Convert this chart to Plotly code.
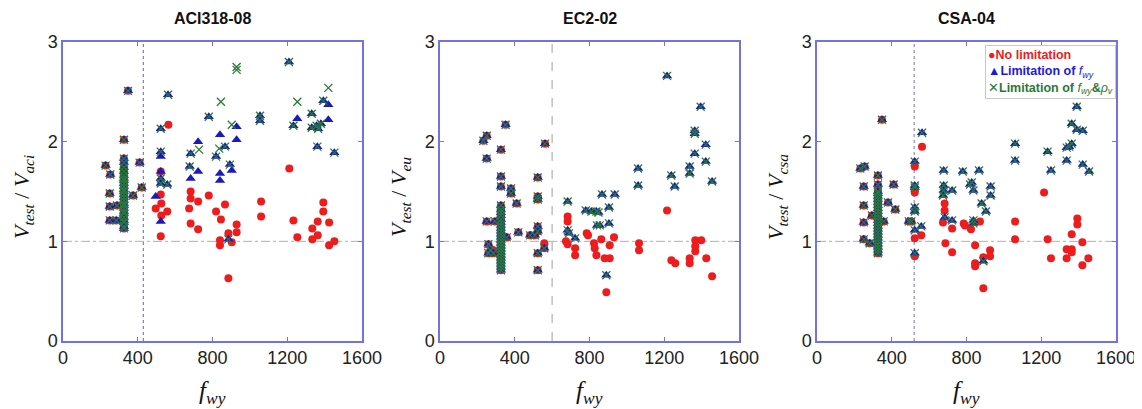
import plotly.graph_objects as go

# ---------------- data ----------------
panel_titles = ["ACI318-08", "EC2-02", "CSA-04"]
y_subscripts = ["aci", "eu", "csa"]
fwy_limits = [430, 600, 520]
x_ticks = [0, 400, 800, 1200, 1600]
y_ticks = [0, 1, 2, 3]
legend_labels = ["No limitation", "Limitation of ", "Limitation of "]

# ACI318-08 : specimens below the limit (all three approaches coincide)
aci_low_fwy = [348, 326, 228, 253, 410, 250, 250, 250, 285, 375, 421, 289,
               326, 326, 326, 326, 326, 326, 326, 326, 326, 326, 326, 326,
               326, 326, 326, 326, 326, 326, 326, 326, 326, 326, 326, 326]
aci_low_ratio = [2.51, 2.02, 1.76, 1.67, 1.79, 1.48, 1.35, 1.21, 1.21, 1.46, 1.54, 1.36,
                 1.13, 1.15, 1.19, 1.21, 1.24, 1.28, 1.30, 1.33, 1.36, 1.38, 1.41, 1.44,
                 1.47, 1.50, 1.52, 1.55, 1.58, 1.61, 1.63, 1.66, 1.70, 1.74, 1.79, 1.83]
aci_nolim_fwy = [564, 523, 496, 526, 558, 526, 523, 523, 683, 683, 723, 675, 683, 723, 780,
                 867, 819, 845, 929, 929, 885, 840, 840, 903, 885, 1060, 1060, 1211, 1233,
                 1254, 1393, 1393, 1363, 1424, 1334, 1363, 1334, 1424, 1452]
aci_nolim_ratio = [2.17, 1.70, 1.33, 1.38, 1.30, 1.26, 1.05, 1.47, 1.50, 1.43, 1.40, 1.33, 1.18, 1.12, 1.46,
                   1.37, 1.30, 1.22, 1.17, 1.09, 1.08, 1.01, 0.96, 0.99, 0.63, 1.40, 1.25, 1.73, 1.21,
                   1.04, 1.39, 1.30, 1.20, 1.19, 1.13, 1.06, 1.02, 0.96, 1.00]
aci_limfy_fwy = [562, 523, 523, 523, 523, 523, 523, 558, 496, 523, 683, 723, 678, 723, 683, 780,
                 840, 929, 929, 867, 819, 893, 903, 840, 840, 885, 1054, 1054, 1209, 1254, 1233,
                 1331, 1331, 1393, 1420, 1420, 1357, 1380, 1365, 1361, 1452]
aci_limfy_ratio = [2.47, 2.13, 1.90, 1.85, 1.70, 1.63, 1.58, 1.57, 1.45, 1.20, 1.88, 2.00, 1.75, 1.70, 1.63, 2.25,
                   2.07, 2.15, 2.02, 1.95, 1.85, 1.77, 1.71, 1.68, 1.61, 1.02, 2.26, 2.21, 2.80, 2.23, 2.16,
                   2.28, 2.14, 2.41, 2.37, 2.22, 2.16, 2.18, 2.13, 1.95, 1.89]
aci_limrho_fwy = [562, 523, 523, 523, 523, 558, 683, 728, 678, 780, 845, 929, 929, 903, 836, 819,
                  867, 893, 885, 1054, 1054, 1209, 1254, 1233, 1331, 1331, 1393, 1420, 1357, 1380,
                  1365, 1361, 1452]
aci_limrho_ratio = [2.47, 2.13, 1.90, 1.63, 1.58, 1.57, 1.88, 1.92, 1.75, 2.25, 2.40, 2.75, 2.72, 2.17, 1.93, 1.85,
                    1.95, 1.77, 1.02, 2.26, 2.21, 2.80, 2.40, 2.16, 2.28, 2.14, 2.41, 2.54, 2.16, 2.18,
                    2.13, 1.95, 1.89]

# EC2-02
ec2_low_fwy = [351, 250, 232, 326, 250, 326, 326, 380, 380, 410, 250, 294, 419, 357, 259, 259, 285,
               562, 523, 523, 523, 523, 523, 482, 508, 558, 523, 523, 270,
               326, 326, 326, 326, 326, 326, 326, 326, 326, 326, 326, 326, 326, 326, 326, 326,
               326, 326, 326, 326, 326, 326]
ec2_low_ratio = [2.17, 2.06, 2.01, 1.92, 1.83, 1.65, 1.55, 1.53, 1.48, 1.38, 1.20, 1.20, 1.09, 1.04, 0.97, 0.88, 0.88,
                 1.98, 1.64, 1.45, 1.42, 1.15, 1.10, 1.06, 1.06, 0.93, 0.88, 0.71, 0.91,
                 0.71, 0.74, 0.77, 0.80, 0.83, 0.86, 0.89, 0.92, 0.95, 0.98, 1.01, 1.04, 1.07, 1.10, 1.13, 1.16,
                 1.19, 1.22, 1.26, 1.29, 1.32, 1.36]
ec2_nolim_fwy = [558, 285, 674, 683, 683, 683, 785, 723, 723, 1215, 792, 863, 931, 824, 828, 908, 837,
                 881, 908, 890, 1065, 1065, 1238, 1259, 1336, 1336, 1366, 1398, 1366, 1366, 1425, 1456]
ec2_nolim_ratio = [0.98, 0.91, 1.00, 1.25, 1.20, 0.97, 1.08, 0.93, 0.86, 1.31, 1.06, 1.02, 1.04, 0.98, 0.93, 0.96, 0.86,
                   0.83, 0.83, 0.49, 0.98, 0.91, 0.81, 0.78, 0.83, 0.78, 1.01, 1.01, 0.95, 0.90, 0.83, 0.65]
ec2_limfy_fwy = [683, 780, 683, 690, 723, 1215, 1395, 1363, 1363, 1422, 1363, 1422, 1336, 1336, 1238, 1256,
                 1456, 1060, 1060, 867, 935, 904, 810, 837, 848, 904, 840, 855, 890]
ec2_limfy_ratio = [1.40, 1.31, 1.11, 1.08, 1.03, 2.66, 2.35, 2.11, 2.08, 1.97, 1.88, 1.80, 1.75, 1.68, 1.66, 1.55,
                   1.60, 1.73, 1.56, 1.47, 1.47, 1.34, 1.30, 1.30, 1.29, 1.18, 1.16, 1.16, 0.66]
ec2_limrho_fwy = [683, 780, 683, 690, 723, 1215, 1395, 1363, 1363, 1422, 1363, 1422, 1336, 1336, 1238, 1256,
                  1456, 1060, 1060, 867, 935, 904, 810, 837, 848, 904, 840, 855, 890]
ec2_limrho_ratio = [1.40, 1.31, 1.11, 1.08, 1.03, 2.66, 2.35, 2.11, 2.08, 1.97, 1.88, 1.80, 1.75, 1.68, 1.66, 1.55,
                    1.60, 1.73, 1.56, 1.47, 1.47, 1.34, 1.30, 1.30, 1.29, 1.18, 1.16, 1.16, 0.66]

# CSA-04
csa_low_fwy = [348, 232, 255, 250, 326, 326, 410, 380, 419, 250, 294, 357, 250, 250, 282, 491, 505,
               326, 326, 326, 326, 326, 326, 326, 326, 326, 326, 326, 326, 326, 326, 326, 326,
               326, 326, 326, 326, 326, 326]
csa_low_ratio = [2.22, 1.73, 1.75, 1.55, 1.66, 1.57, 1.57, 1.39, 1.32, 1.36, 1.26, 1.20, 1.19, 1.02, 0.98, 1.20, 1.20,
                 0.88, 0.91, 0.94, 0.97, 1.00, 1.03, 1.06, 1.09, 1.12, 1.15, 1.18, 1.21, 1.24, 1.27, 1.30, 1.33,
                 1.36, 1.39, 1.42, 1.45, 1.48, 1.50]
csa_nolim_fwy = [562, 523, 523, 523, 558, 523, 523, 683, 683, 674, 723, 785, 687, 723, 1215, 1060, 1060,
                 1234, 1252, 1393, 1393, 1363, 1420, 1336, 1363, 1363, 1336, 1452, 1420, 792, 872, 824,
                 846, 926, 926, 890, 846, 890, 846]
csa_nolim_ratio = [1.95, 1.75, 1.49, 1.52, 1.06, 1.03, 0.85, 1.38, 1.31, 1.19, 1.13, 1.18, 0.98, 0.89, 1.49, 1.20, 1.02,
                   1.02, 0.83, 1.23, 1.17, 1.07, 0.99, 0.92, 0.92, 0.89, 0.83, 0.83, 0.76, 1.16, 1.20, 1.12,
                   0.96, 0.91, 0.85, 0.84, 0.78, 0.53, 0.75]
csa_limfy_fwy = [562, 523, 523, 523, 523, 523, 523, 558, 523, 678, 780, 678, 678, 675, 723, 683, 723,
                 1215, 1390, 1363, 1390, 1422, 1363, 1336, 1350, 1234, 1060, 1060, 1336, 1252, 1422, 1456,
                 867, 819, 837, 929, 929, 881, 904, 837, 837, 890, 828]
csa_limfy_ratio = [2.09, 1.80, 1.56, 1.54, 1.34, 1.30, 1.11, 1.15, 0.88, 1.71, 1.70, 1.56, 1.51, 1.46, 1.51, 1.24, 1.21,
                   2.51, 2.35, 2.18, 2.12, 2.11, 1.98, 1.94, 1.95, 1.90, 1.98, 1.81, 1.81, 1.71, 1.77, 1.70,
                   1.71, 1.57, 1.51, 1.55, 1.46, 1.38, 1.30, 1.21, 1.18, 0.80, 1.59]
csa_limrho_fwy = list(csa_limfy_fwy)
csa_limrho_ratio = list(csa_limfy_ratio)

panels = [
    (aci_low_fwy, aci_low_ratio, aci_nolim_fwy, aci_nolim_ratio, aci_limfy_fwy, aci_limfy_ratio,
     aci_limrho_fwy, aci_limrho_ratio),
    (ec2_low_fwy, ec2_low_ratio, ec2_nolim_fwy, ec2_nolim_ratio, ec2_limfy_fwy, ec2_limfy_ratio,
     ec2_limrho_fwy, ec2_limrho_ratio),
    (csa_low_fwy, csa_low_ratio, csa_nolim_fwy, csa_nolim_ratio, csa_limfy_fwy, csa_limfy_ratio,
     csa_limrho_fwy, csa_limrho_ratio),
]

# ---------------- styling ----------------
OFF = 8                      # the page body adds an 8 px margin around the figure
W, H = 1134, 401
x_px = [(63 - OFF, 362 - OFF), (440 - OFF, 739 - OFF), (817 - OFF, 1116 - OFF)]
y_top_px, y_bot_px = 42 - OFF, 341 - OFF
RED, BLUE, GREEN = "#ee1c1c", "#1a1ab8", "#2a7a36"
FRAME = "#7272e0"
vline_styles = [("#7c7cc8", "dot"), ("#b0b0b0", "dash"), ("#8a8ad0", "dot")]

def px_x(p):
    return p / W

def px_y(p):
    return 1 - p / H

fig = go.Figure()
layout = dict(width=W, height=H, margin=dict(l=0, r=0, t=0, b=0, pad=0, autoexpand=False),
              paper_bgcolor="white", plot_bgcolor="white", showlegend=False)
annotations = []
shapes = []

for i, data in enumerate(panels):
    low_x, low_y, r_x, r_y, b_x, b_y, g_x, g_y = data
    xa = "x" if i == 0 else f"x{i+1}"
    ya = "y" if i == 0 else f"y{i+1}"
    fig.add_trace(go.Scatter(x=low_x + r_x, y=low_y + r_y, mode="markers", xaxis=xa, yaxis=ya,
                             name="No limitation",
                             marker=dict(symbol="circle", size=8, color=RED)))
    fig.add_trace(go.Scatter(x=low_x + b_x, y=low_y + b_y, mode="markers", xaxis=xa, yaxis=ya,
                             name="Limitation of fwy",
                             marker=dict(symbol="triangle-up", size=9, color=BLUE)))
    fig.add_trace(go.Scatter(x=low_x + g_x, y=low_y + g_y, mode="markers", xaxis=xa, yaxis=ya,
                             name="Limitation of fwy & rho_v",
                             marker=dict(symbol="x-thin-open", size=8, color=GREEN,
                                         line=dict(color=GREEN, width=1.3))))

    x0, x1 = x_px[i]
    dom_x = [px_x(x0), px_x(x1)]
    dom_y = [px_y(y_bot_px), px_y(y_top_px)]
    axis_common = dict(showline=True, mirror="allticks", linecolor=FRAME, linewidth=1.5,
                       ticks="inside", ticklen=4, tickcolor=FRAME, showgrid=False, zeroline=False,
                       automargin=False,
                       tickfont=dict(family="Liberation Sans, Arial", size=18, color="#222222"))
    layout["xaxis" if i == 0 else f"xaxis{i+1}"] = dict(
        domain=dom_x, range=[0, 1600], tickvals=x_ticks, anchor=ya, **axis_common)
    layout["yaxis" if i == 0 else f"yaxis{i+1}"] = dict(
        domain=dom_y, range=[0, 3], tickvals=y_ticks, anchor=xa, **axis_common)

    # reference lines
    shapes.append(dict(type="line", xref=xa, yref=ya, x0=0, x1=1600, y0=1, y1=1,
                       line=dict(color="#b0b0b0", width=1, dash="dashdot"), layer="below"))
    vc, vd = vline_styles[i]
    shapes.append(dict(type="line", xref=xa, yref=ya, x0=fwy_limits[i], x1=fwy_limits[i], y0=0, y1=3,
                       line=dict(color=vc, width=1.2, dash=vd), layer="below"))

    cx = px_x((x0 + x1) / 2)
    annotations.append(dict(text=f"<b>{panel_titles[i]}</b>", xref="paper", yref="paper",
                            x=cx, y=px_y(18 - OFF), xanchor="center", yanchor="middle", showarrow=False,
                            font=dict(family="Liberation Sans, Arial", size=16, color="#111111")))
    annotations.append(dict(text=f"<i>V</i><sub><i>test</i></sub> / <i>V</i><sub><i>{y_subscripts[i]}</i></sub>",
                            xref="paper", yref="paper", x=px_x(x0 - 40), y=px_y(197 - OFF),
                            xanchor="center", yanchor="middle", textangle=-90, showarrow=False,
                            borderpad=0,
                            font=dict(family="Liberation Serif, Times New Roman", size=22, color="#111111")))
    annotations.append(dict(text="<i>f</i><sub><i>wy</i></sub>", xref="paper", yref="paper",
                            x=cx, y=px_y(392 - OFF), xanchor="center", yanchor="middle", showarrow=False,
                            font=dict(family="Liberation Serif, Times New Roman", size=25, color="#111111")))

# legend box (inside the CSA-04 panel)
legend_text = (
    f'<span style="color:{RED}">●<b>{legend_labels[0]}</b></span><br>'
    f'<span style="color:#1a1ae0">▲<b>{legend_labels[1]}</b><i>f</i><sub><i>wy</i></sub></span><br>'
    f'<span style="color:{GREEN}">✕<b>{legend_labels[2]}</b><i>f</i><sub><i>wy</i></sub>'
    f'<b>&amp;</b><i>ρ</i><sub><i>v</i></sub></span>'
)
annotations.append(dict(text=legend_text, xref="paper", yref="paper",
                        x=px_x(1116 - OFF), y=px_y(45 - OFF), xanchor="right", yanchor="top",
                        align="left", showarrow=False, bgcolor="white", bordercolor="#c8c8c8",
                        borderwidth=1, borderpad=2,
                        font=dict(family="Liberation Sans, Arial", size=12.5, color="#111111")))

layout["annotations"] = annotations
layout["shapes"] = shapes
fig.update_layout(**layout)

fig.write_html("out.html")
